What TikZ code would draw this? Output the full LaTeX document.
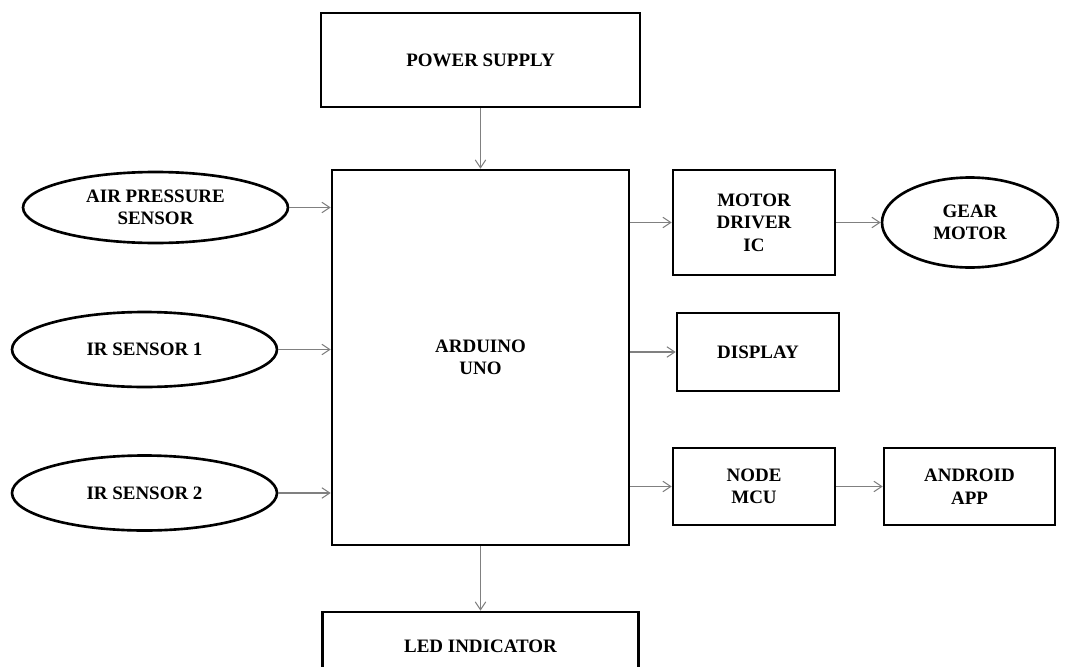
\documentclass[tikz,border=0pt]{standalone}
\usepackage{fontspec}
\setmainfont{Liberation Serif}
\usetikzlibrary{arrows.meta, positioning, shapes.geometric}

\tikzset{
  block/.style={draw, line width=1.5pt, align=center, inner sep=0pt,
    font=\bfseries\fontsize{10.8}{12.8}\selectfont},
  sensor/.style={block, ellipse},
  link/.style={draw=gray, line width=0.6pt, -{Straight Barb[length=4.5pt, width=6pt]}}
}

\begin{document}
\begin{tikzpicture}[x=0.02cm, y=-0.02cm]
  \useasboundingbox (0,0) rectangle (1068,666);
  \clip (0,0) rectangle (1068,666);

  % 中央のブロック
  \node[block, minimum width=6.38cm, minimum height=1.88cm] (power) at (480.5,60) {POWER SUPPLY};
  \node[block, minimum width=5.94cm, minimum height=7.5cm] (ard) at (480.5,357.5) {ARDUINO\\UNO};
  \node[block, minimum width=6.32cm, minimum height=1.36cm] (led) at (480.5,646) {LED INDICATOR};

  % 入力センサ
  \node[sensor, minimum width=5.3cm, minimum height=1.42cm] (air) at (155.5,207.5) {AIR PRESSURE\\SENSOR};
  \node[sensor, minimum width=5.3cm, minimum height=1.5cm] (ir1) at (144.5,349.5) {IR SENSOR 1};
  \node[sensor, minimum width=5.3cm, minimum height=1.5cm] (ir2) at (144.5,493) {IR SENSOR 2};

  % 出力側
  \node[block, minimum width=3.24cm, minimum height=2.1cm] (mot) at (754,222.5) {MOTOR\\DRIVER\\IC};
  \node[sensor, minimum width=3.52cm, minimum height=1.8cm] (gear) at (970,222.5) {GEAR\\MOTOR};
  \node[block, minimum width=3.24cm, minimum height=1.56cm] (disp) at (758,352) {DISPLAY};
  \node[block, minimum width=3.24cm, minimum height=1.54cm] (mcu) at (754,486.5) {NODE\\MCU};
  \node[block, minimum width=3.42cm, minimum height=1.54cm] (app) at (969.5,486.5) {ANDROID\\APP};

  % 矢印
  \draw[link] (power) -- (ard);
  \draw[link] (ard) -- (led);
  \foreach \s in {air, ir1, ir2} {
    \draw[link] (\s) -- (\s -| ard.west);
  }
  \foreach \t in {mot, disp, mcu} {
    \draw[link] (ard.east |- \t) -- (\t);
  }
  \draw[link] (mot) -- (gear);
  \draw[link] (mcu) -- (app);
\end{tikzpicture}
\end{document}
